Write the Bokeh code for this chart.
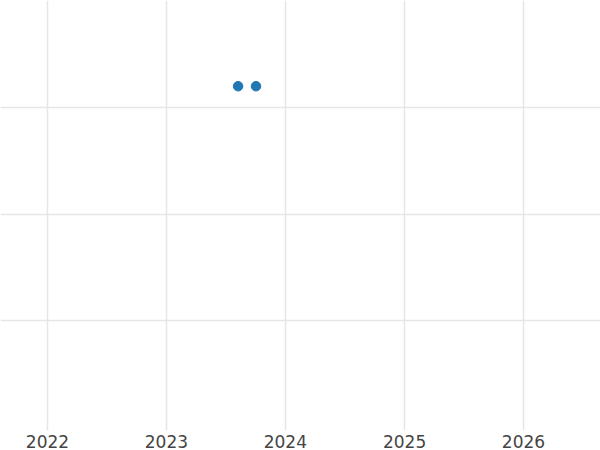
import pandas as pd
from bokeh.plotting import figure
from bokeh.models import Range1d, FixedTicker, DatetimeTickFormatter, ColumnDataSource
from bokeh.embed import file_html
from bokeh.resources import INLINE

# data
dates = ["2023-08-09", "2023-10-03"]
values = [3.2, 3.2]
year_ticks = ["2022-01-01", "2023-01-01", "2024-01-01", "2025-01-01", "2026-01-01"]
y_ticks = [1, 2, 3]

x = pd.to_datetime(dates)
src = ColumnDataSource(dict(x=x, y=values))

W, H = 600, 450
px_per_day = 119.0 / 365.25
x_start = pd.Timestamp("2022-01-01") - pd.Timedelta(days=47 / px_per_day)
x_end = x_start + pd.Timedelta(days=W / px_per_day)

p = figure(width=W, height=H, x_axis_type="datetime",
           output_backend="svg", toolbar_location=None,
           x_range=Range1d(x_start, x_end), y_range=Range1d(-0.033, 4.005),
           min_border=0, min_border_left=0, min_border_right=0,
           min_border_top=0, min_border_bottom=0)
p.outline_line_color = None
p.background_fill_color = "white"
p.border_fill_color = "white"

p.scatter("x", "y", source=src, size=9.5, color="#1f77b4", line_color="#1f77b4")

p.xaxis.ticker = FixedTicker(ticks=[pd.Timestamp(t).value / 1e6 for t in year_ticks])
p.xaxis.formatter = DatetimeTickFormatter(years="%Y", months="%Y", days="%Y")
p.xaxis.axis_line_color = None
p.xaxis.major_tick_line_color = None
p.xaxis.minor_tick_line_color = None
p.xaxis.major_tick_out = 0
p.xaxis.major_tick_in = 0
p.xaxis.major_label_standoff = 4
p.xaxis.major_label_text_font = "DejaVu Sans"
p.xaxis.major_label_text_font_size = "17px"
p.xaxis.major_label_text_color = "#444444"

p.yaxis.visible = False
p.yaxis.ticker = FixedTicker(ticks=y_ticks)

p.xgrid.grid_line_color = "#e6e6e6"
p.xgrid.grid_line_width = 1.5
p.ygrid.grid_line_color = "#e6e6e6"
p.ygrid.grid_line_width = 1.5
p.ygrid.ticker = FixedTicker(ticks=y_ticks)

open("out.html", "w").write(file_html(p, INLINE))
